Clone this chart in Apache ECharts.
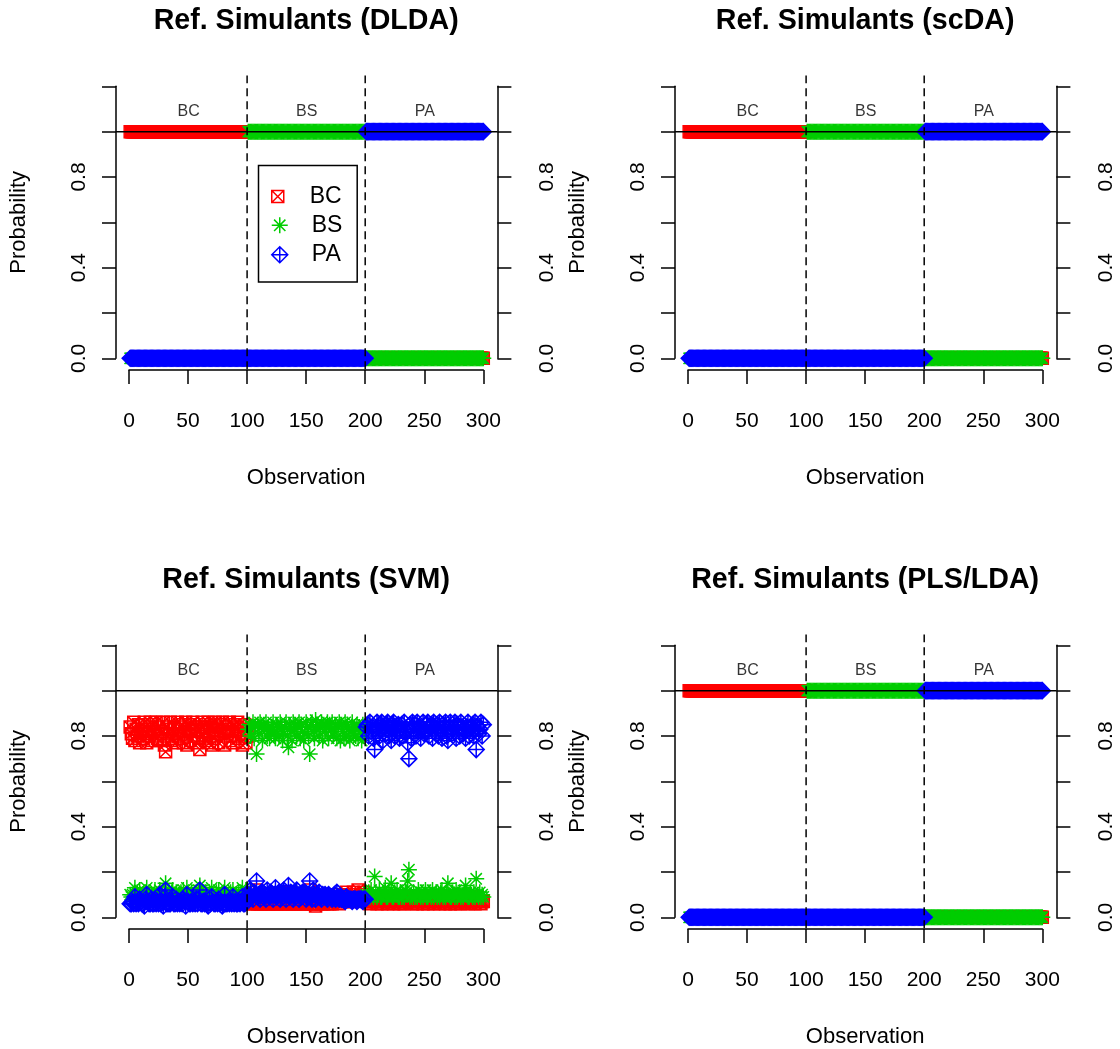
<!DOCTYPE html>
<html><head><meta charset="utf-8">
<script src="https://cdn.jsdelivr.net/npm/echarts@6/dist/echarts.min.js"></script>
<style>html,body{margin:0;padding:0;background:#fff}#c{width:1120px;height:1049px}</style>
</head><body><div id="c"></div>
<script>
// ---------------- data ----------------
const classNames = ['BC', 'BS', 'PA'];
const blockSize = 100;               // observations per true class
const classBoundaries = [100, 200];  // dashed separators
const yLabelTicks = [0.0, 0.4, 0.8];
const panelTitles = ['Ref. Simulants (DLDA)', 'Ref. Simulants (scDA)', 'Ref. Simulants (SVM)', 'Ref. Simulants (PLS/LDA)'];

// class probability per block of true class (BC block, BS block, PA block)
const dldaBC = [1, 0, 0], dldaBS = [0, 1, 0], dldaPA = [0, 0, 1];
const scdaBC = [1, 0, 0], scdaBS = [0, 1, 0], scdaPA = [0, 0, 1];
const plsBC  = [1, 0, 0], plsBS  = [0, 1, 0], plsPA  = [0, 0, 1];

// SVM probabilities (percent), observation 1..300
const svmBC = [
 84,81,79,86,78,83,80,85,77,82, 85,79,86,81,77,83,80,86,78,85, 82,80,86,79,84,78,81,82,86,76, 73,84,80,83,86,78,79,84,81,77, 86,80,84,79,85,77,82,86,76,83,
 85,78,82,86,80,84,77,83,79,74, 84,86,80,85,78,82,86,77,84,76, 83,79,86,80,84,77,85,81,86,82, 76,84,80,83,86,78,82,77,85,80, 84,86,79,85,81,76,83,85,77,80,
 7,6,8,7,6,7,6,12,6,7, 6,6,8,6,7,6,8,6,6,7, 6,6,7,8,6,6,7,6,7,6, 7,6,6,7,11,6,7,6,6,7, 6,8,6,6,7,6,7,6,8,6,
 7,7,12,6,6,6,6,5,7,6, 9,7,6,7,6,8,7,6,9,6, 8,6,7,8,7,10,7,6,8,7, 10,8,7,11,7,9,8,10,7,11, 8,9,8,12,8,10,9,8,11,8,
 7,7,7,6,7,7,7,8,7,6, 7,7,7,6,7,7,7,7,6,7, 7,7,7,6,7,7,7,7,6,7, 7,7,6,7,7,7,9,7,7,6, 7,7,7,6,7,7,7,7,6,7,
 7,7,6,7,7,7,7,6,7,7, 7,7,6,7,7,7,7,6,7,7, 7,6,7,7,7,6,7,7,7,7, 6,7,7,7,7,7,6,7,7,7, 7,7,6,9,7,7,7,6,7,7
];
const svmBS = [
 10,9,10,8,13,10,11,9,12,10, 9,10,9,11,13,9,11,8,10,9, 10,12,8,10,9,12,10,11,9,11, 15,10,9,11,8,11,12,10,9,11, 8,10,10,11,9,12,9,9,13,10,
 9,10,11,8,10,9,11,10,12,14, 10,8,10,9,11,10,9,11,9,13, 10,9,8,11,10,12,9,10,9,10, 13,10,9,10,8,11,10,12,9,10, 10,8,11,9,10,13,10,9,12,10,
 83,85,80,84,86,79,84,72,85,81, 86,84,78,85,83,86,80,84,79,82, 84,86,81,79,85,84,80,86,83,78, 81,84,86,80,75,85,82,78,86,83, 85,80,84,86,79,85,82,78,81,86,
 84,80,72,85,86,82,79,87,83,85, 80,84,86,78,85,82,84,86,79,85, 83,86,80,82,85,79,84,86,78,85, 82,79,86,80,85,83,78,82,86,81, 84,80,85,79,84,82,78,85,81,84,
 10,9,11,9,12,10,9,18,11,9, 10,12,9,9,11,10,13,9,9,11, 10,15,9,9,11,10,12,9,9,11, 9,10,9,12,11,16,21,9,10,9, 11,9,10,9,12,10,9,11,9,10,
 12,9,9,11,10,9,12,9,10,11, 9,10,9,11,12,9,10,9,11,15, 10,9,9,11,10,9,12,9,10,11, 9,10,9,11,14,10,9,9,11,10, 9,11,9,17,10,9,11,9,10,9
];
const svmPA = [
 6,6,7,6,9,6,7,6,8,7, 6,6,5,8,10,7,6,6,8,6, 6,8,6,7,6,10,6,7,5,9, 12,6,6,6,6,7,9,6,6,8, 6,7,6,7,6,8,7,5,10,7,
 6,6,7,6,7,6,8,6,8,12, 6,6,7,6,7,6,5,8,6,9, 7,6,6,7,6,8,6,7,5,6, 10,6,6,7,6,7,6,9,6,7, 6,6,7,6,7,9,6,6,8,7,
 10,9,12,9,8,11,10,16,9,10, 8,10,11,9,10,8,12,10,9,11, 10,8,10,13,9,10,11,8,10,9, 12,10,8,10,14,9,11,10,8,10, 9,12,10,8,10,9,11,10,11,8,
 9,10,16,9,8,12,10,8,10,9, 11,9,8,10,9,10,9,8,10,9, 9,8,9,10,8,11,9,8,9,8, 8,8,7,9,8,8,8,8,7,8, 8,8,7,8,8,8,8,7,8,8,
 84,85,80,86,82,84,79,74,83,86, 84,80,85,86,78,84,81,85,86,80, 84,78,85,86,80,84,82,85,79,83, 85,80,86,82,83,77,70,85,79,86, 83,85,80,86,82,84,79,83,86,81,
 82,85,86,80,84,85,79,86,84,81, 85,80,86,83,79,85,84,86,80,78, 84,86,81,83,84,86,79,85,84,80, 86,84,81,83,79,84,86,80,83,84, 85,80,86,74,84,81,83,86,80,85
];

// ---------------- build ----------------
const nObs = classNames.length * blockSize;
const obsIdx = Array.from({length: nObs}, (_, i) => i + 1);
const expandBlocks = b => obsIdx.map(i => b[Math.floor((i - 1) / blockSize)]);
const pct = a => a.map(v => v / 100);

const panelData = [
  [expandBlocks(dldaBC), expandBlocks(dldaBS), expandBlocks(dldaPA)],
  [expandBlocks(scdaBC), expandBlocks(scdaBS), expandBlocks(scdaPA)],
  [pct(svmBC), pct(svmBS), pct(svmPA)],
  [expandBlocks(plsBC), expandBlocks(plsBS), expandBlocks(plsPA)]
];

const FONT = 'Liberation Sans, Arial, Helvetica, sans-serif';
const colors = ['#FF0000', '#00CD00', '#0000FF'];
const symbols = [
  'path://M0,0H10V10H0ZM0,0L10,10M10,0L0,10',
  'path://M5,0V10M0,5H10M1.46,1.46L8.54,8.54M8.54,1.46L1.46,8.54',
  'path://M5,0L10,5L5,10L0,5ZM5,0V10M0,5H10'
];
const symSizes = [12, 16, 16];

// layout (pixels)
const G = {left: 129, top: 86.3, width: 354.3, height: 272};      // axis span: x 0..300, y 0..1.2
const pxPerX = G.width / nObs, pxPerY = G.height / 1.2;
const xLo = -10.96, xHi = 311.96, yLo = -0.048, yHi = 1.248;       // R plot region (4% extension)
const offsets = [[0, 0], [559, 0], [0, 559], [559, 559]];
const labelY = 1.088;
const LW = 1.5;

const grids = [], xAxes = [], yAxes = [], series = [], titles = [], graphics = [];
const yFmt = v => yLabelTicks.some(t => Math.abs(t - v) < 1e-9) ? v.toFixed(1) : '';
const nP = offsets.length;

offsets.forEach(([dx, dy], k) => {
  grids.push({left: G.left + dx, top: G.top + dy, width: G.width, height: G.height, containLabel: false});
  titles.push({
    text: panelTitles[k], left: G.left + dx + G.width / 2, top: dy + 7, textAlign: 'center', padding: 0,
    textStyle: {fontFamily: FONT, fontSize: 28.6, fontWeight: 'bold', color: '#000'}
  });
  xAxes.push({
    gridIndex: k, type: 'value', min: 0, max: nObs, interval: 50, position: 'bottom', offset: 11.7,
    axisLine: {show: true, onZero: false, lineStyle: {color: '#000', width: LW}},
    axisTick: {show: true, length: 14, lineStyle: {color: '#000', width: LW}},
    axisLabel: {margin: 41, fontSize: 21, color: '#000', fontFamily: FONT},
    splitLine: {show: false},
    name: 'Observation', nameLocation: 'middle', nameGap: 97,
    nameTextStyle: {fontSize: 22, color: '#000', fontFamily: FONT}
  });
  const yBase = {
    gridIndex: k, type: 'value', min: 0, max: 1.2, interval: 0.2,
    axisTick: {show: true, length: 14, lineStyle: {color: '#000', width: LW}},
    splitLine: {show: false}
  };
  yAxes.push(Object.assign({}, yBase, {
    position: 'left', offset: 13,
    axisLine: {show: true, onZero: false, lineStyle: {color: '#000', width: LW}},
    axisLabel: {rotate: 90, margin: 26, fontSize: 21, color: '#000', fontFamily: FONT, formatter: yFmt},
    name: 'Probability', nameLocation: 'middle', nameGap: 86,
    nameTextStyle: {fontSize: 22, color: '#000', fontFamily: FONT}
  }));
  yAxes.push(Object.assign({}, yBase, {
    position: 'right', offset: 14.1,
    axisLine: {show: true, onZero: false, lineStyle: {color: '#000', width: LW}},
    axisLabel: {rotate: 90, margin: 39, fontSize: 21, color: '#000', fontFamily: FONT, formatter: yFmt}
  }));

  const yi = 2 * k;
  panelData[k].forEach((vals, c) => {
    series.push({
      type: 'scatter', name: classNames[c], xAxisIndex: k, yAxisIndex: yi,
      data: obsIdx.map((x, i) => [x, vals[i]]),
      symbol: symbols[c], symbolSize: symSizes[c], clip: false, silent: true,
      itemStyle: {color: 'rgba(0,0,0,0)', borderColor: colors[c], borderWidth: LW, opacity: 1},
      z: 2
    });
  });
  // class labels above each block
  series.push({
    type: 'scatter', xAxisIndex: k, yAxisIndex: yi, symbolSize: 0, clip: false, silent: true,
    data: classNames.map((n, c) => ({value: [c * blockSize + (blockSize + 1) / 2, labelY], name: n})),
    label: {show: true, position: 'inside', formatter: p => p.name, fontSize: 16, color: '#000', fontFamily: FONT},
    z: 6
  });
});

// plot-region grids (hidden axes spanning the full R plot region) for reference lines
offsets.forEach(([dx, dy], k) => {
  grids.push({
    left: G.left + dx + xLo * pxPerX, width: (xHi - xLo) * pxPerX,
    top: G.top + dy + (1.2 - yHi) * pxPerY, height: (yHi - yLo) * pxPerY, containLabel: false
  });
  xAxes.push({gridIndex: nP + k, type: 'value', min: xLo, max: xHi, show: false});
  yAxes.push({gridIndex: nP + k, type: 'value', min: yLo, max: yHi, show: false});
  const xi = nP + k, yi = 2 * nP + k;
  series.push({
    type: 'line', xAxisIndex: xi, yAxisIndex: yi, data: [[xLo, 1], [xHi, 1]],
    symbol: 'none', silent: true, lineStyle: {color: '#000', width: LW}, z: 5
  });
  classBoundaries.forEach(b => {
    series.push({
      type: 'line', xAxisIndex: xi, yAxisIndex: yi, data: [[b, yLo], [b, yHi]],
      symbol: 'none', silent: true, lineStyle: {color: '#000', width: LW, type: [8, 5]}, z: 5
    });
  });
});

// legend (top-left panel)
const legendRows = [195, 225.8, 255.2];
const legends = classNames.map((n, c) => ({
  data: [n], orient: 'vertical', left: 271, top: legendRows[c] - (c === 0 ? 6 : 8) - 4,
  itemWidth: 54, itemHeight: c === 0 ? 12 : 16, padding: 0, selectedMode: false,
  itemStyle: {color: 'rgba(0,0,0,0)', borderColor: colors[c], borderWidth: LW},
  textStyle: {fontSize: 23, color: '#000', fontFamily: FONT}
}));
graphics.push({
  type: 'rect', left: 256, top: 163, z: 10,
  shape: {width: 98.7, height: 116.4},
  style: {fill: 'none', stroke: '#000', lineWidth: LW}
});

const chart = echarts.init(document.getElementById('c'), null, {renderer: 'canvas'});
chart.setOption({
  animation: false, backgroundColor: '#fff',
  title: titles, grid: grids, xAxis: xAxes, yAxis: yAxes, series: series,
  legend: legends, graphic: graphics
});
</script></body></html>
